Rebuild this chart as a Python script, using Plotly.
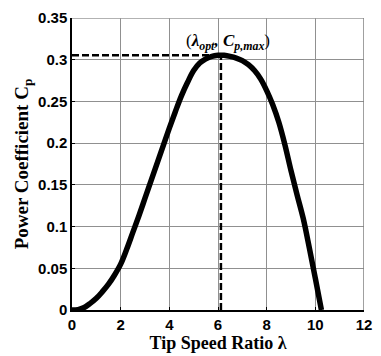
import plotly.graph_objects as go

# Data
tsr = [0, 0.25, 0.5, 0.75, 1, 1.25, 1.5, 1.75, 2, 2.25, 2.5, 2.75, 3, 3.25, 3.5, 3.75, 4, 4.25, 4.5,
       4.75, 5, 5.25, 5.5, 5.75, 6, 6.12, 6.25, 6.5, 6.75, 7, 7.25, 7.5, 7.75, 8, 8.25, 8.5, 8.75,
       9, 9.25, 9.5, 9.75, 10, 10.25]
cp = [0, 0.0005, 0.003, 0.008, 0.014, 0.022, 0.031, 0.042, 0.055, 0.073, 0.093, 0.113, 0.134, 0.155,
      0.176, 0.197, 0.218, 0.238, 0.257, 0.273, 0.287, 0.296, 0.301, 0.304, 0.3053, 0.3055, 0.3053,
      0.304, 0.302, 0.299, 0.294, 0.287, 0.277, 0.263, 0.246, 0.225, 0.198, 0.167, 0.138, 0.11,
      0.075, 0.038, 0]
lam_opt = 6.12
cp_max = 0.3055
x_ticks = [0, 2, 4, 6, 8, 10, 12]
y_ticks = [0, 0.05, 0.1, 0.15, 0.2, 0.25, 0.3, 0.35]
y_tick_text = ["0", "0.05", "0.1", "0.15", "0.2", "0.25", "0.3", "0.35"]

fig = go.Figure()
fig.add_trace(go.Scatter(x=[0, lam_opt], y=[cp_max, cp_max], mode="lines",
                         line=dict(color="black", width=2.5, dash="7px,3px"), hoverinfo="skip"))
fig.add_trace(go.Scatter(x=[lam_opt, lam_opt], y=[0, cp_max], mode="lines",
                         line=dict(color="black", width=2.5, dash="7px,3px"), hoverinfo="skip"))
fig.add_trace(go.Scatter(x=tsr, y=cp, mode="lines",
                         line=dict(color="black", width=5.5, shape="spline", smoothing=1.0)))

fig.add_annotation(x=lam_opt, y=cp_max, xref="x", yref="y", showarrow=False,
                   text="(<i><b>λ</b><sub><b>opt</b></sub><b>, C</b><sub><b>p,max</b></sub></i>)",
                   font=dict(family="Liberation Serif", size=17, color="black"),
                   xanchor="center", yanchor="bottom", xshift=7, yshift=0)

# frame (top/right) in gray
fig.add_shape(type="line", xref="x", yref="y", x0=0, y0=0.35, x1=12, y1=0.35,
              line=dict(color="#999999", width=1.5))
fig.add_shape(type="line", xref="x", yref="y", x0=12, y0=0, x1=12, y1=0.35,
              line=dict(color="#808080", width=1.5))

tick_font = dict(family="Liberation Sans", size=15, color="black", weight="bold")
grid_color = "#909090"

fig.update_layout(
    width=381, height=356, margin=dict(l=72, r=9, t=13, b=45),
    plot_bgcolor="white", paper_bgcolor="white", showlegend=False,
    xaxis=dict(range=[0, 12], tickvals=x_ticks, showgrid=True, gridcolor=grid_color, gridwidth=1,
               zeroline=False, showline=True, linecolor="black", linewidth=1.5,
               ticks="inside", ticklen=3, tickcolor="black", tickfont=tick_font,
               title=dict(text="Tip Speed Ratio λ", standoff=2,
                          font=dict(family="Liberation Serif", size=18, color="black", weight="bold"))),
    yaxis=dict(range=[0, 0.35], tickvals=y_ticks, ticktext=y_tick_text, showgrid=True,
               gridcolor=grid_color, gridwidth=1,
               zeroline=False, showline=True, linecolor="black", linewidth=1.5,
               ticks="inside", ticklen=3, tickcolor="black", tickfont=tick_font,
               title=dict(text="Power Coefficient C<sub>p</sub>", standoff=4,
                          font=dict(family="Liberation Serif", size=19, color="black", weight="bold"))),
)

fig.write_html("out.html", config={"displayModeBar": False},
               post_script="document.body.style.margin='0px';")
